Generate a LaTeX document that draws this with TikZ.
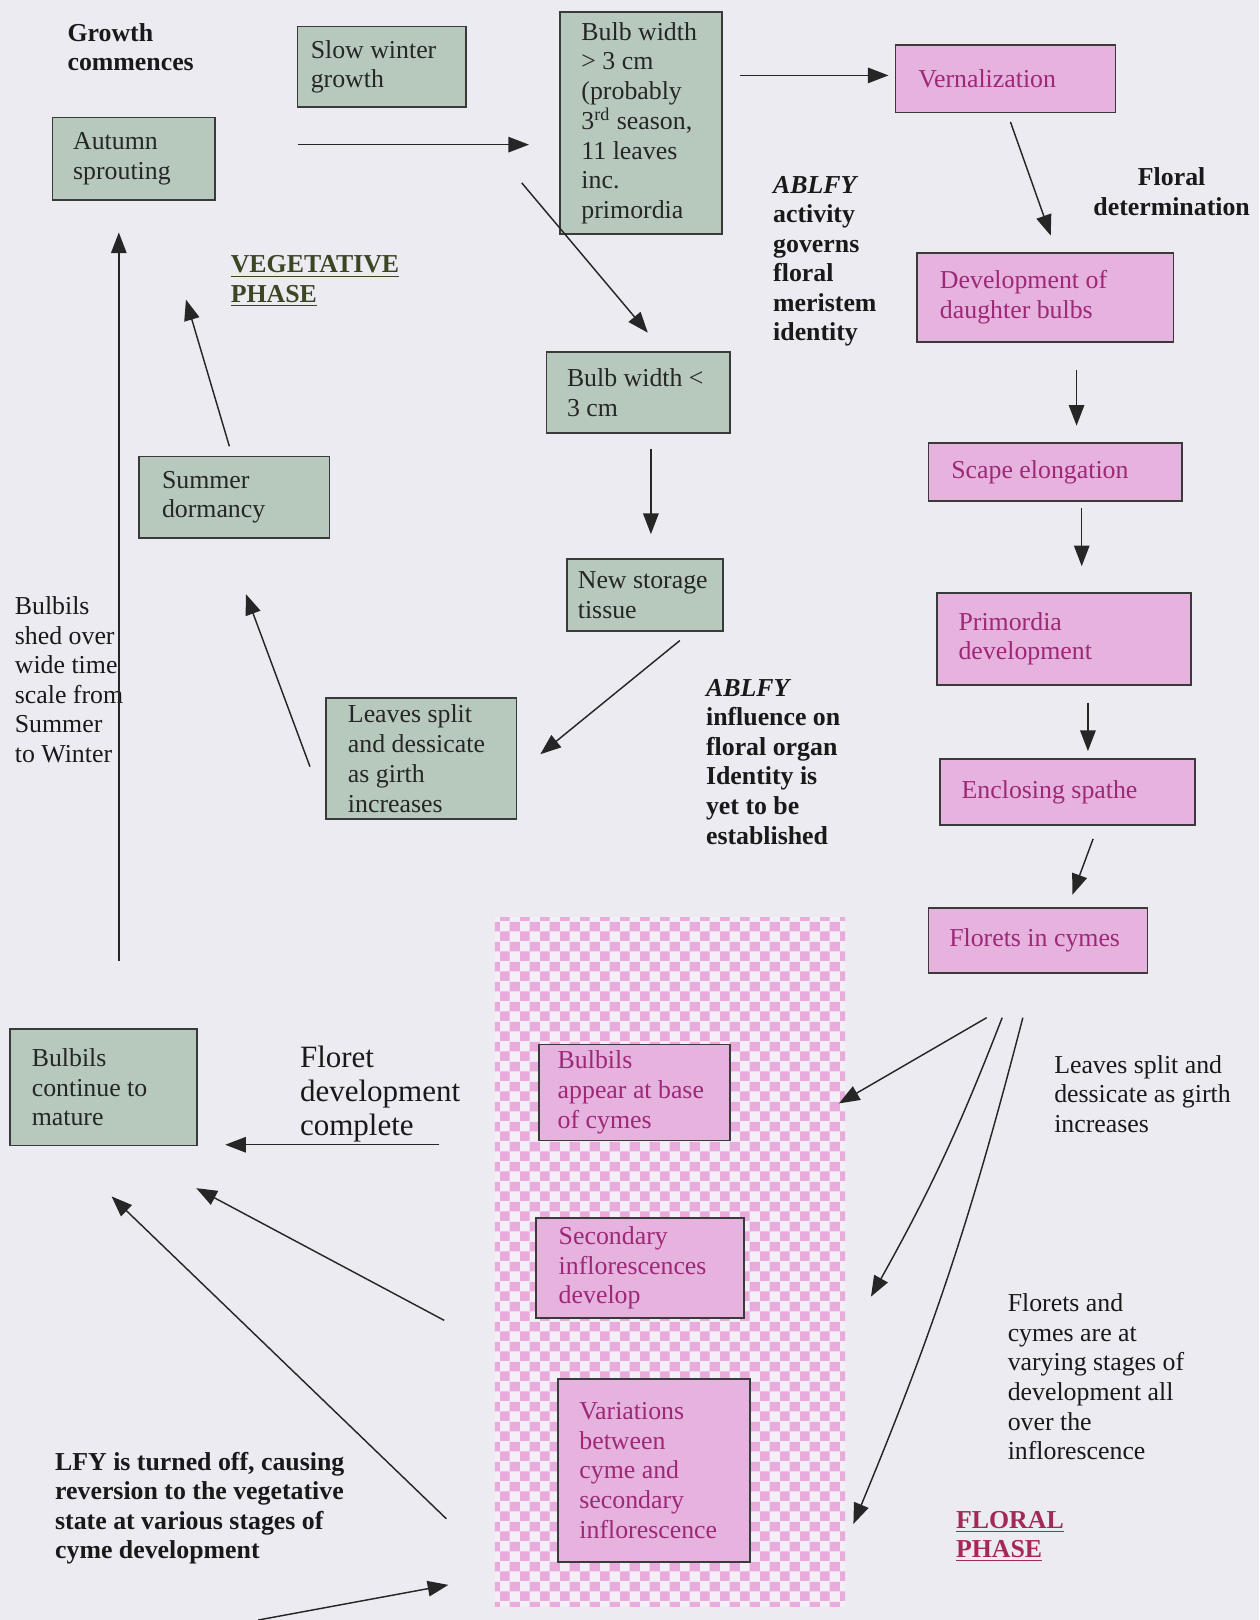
\documentclass[tikz,border=0pt]{standalone}
\usepackage{fontspec}
\setmainfont{Liberation Serif}
\usetikzlibrary{arrows.meta, patterns.meta}
\definecolor{bulbPaper}{HTML}{ECEBF2}
\definecolor{bulbVegFill}{HTML}{B7C9BD}
\definecolor{bulbFloFill}{HTML}{E6B2DE}
\definecolor{bulbFloText}{HTML}{9E2878}
\definecolor{bulbLine}{HTML}{3A3A3A}
\definecolor{bulbOlive}{HTML}{3C4623}
\definecolor{bulbCrimson}{HTML}{A5285A}
\definecolor{bulbCheckPink}{HTML}{E9AADC}
\definecolor{bulbCheckLight}{HTML}{F4EEF7}

\tikzdeclarepattern{
    name=bulbCheck, type=colored,
    bounding box={(0pt,0pt) and (9.68pt,9.68pt)},
    tile size={(9.68pt,9.68pt)},
    code={
        \fill[bulbCheckPink] (0pt,0pt) rectangle (4.84pt,4.84pt);
        \fill[bulbCheckPink] (4.84pt,4.84pt) rectangle (9.68pt,9.68pt);
    }
}

\begin{document}
\begin{tikzpicture}[
    x=0.5pt, y=-0.5pt,
    vegbox/.style={
        draw=bulbLine, line width=0.8pt, fill=bulbVegFill, text=black!85,
        font=\fontsize{12.5}{14.4}\selectfont, anchor=north west, align=flush left,
        inner ysep=2pt
    },
    flobox/.style={
        draw=bulbLine, line width=0.8pt, fill=bulbFloFill, text=bulbFloText,
        font=\fontsize{12.5}{14.4}\selectfont, anchor=north west, align=flush left,
        inner ysep=2pt
    },
    note/.style={
        font=\fontsize{12.5}{14.3}\selectfont, text=black!90,
        anchor=north west, align=left, inner sep=0pt
    },
    boldnote/.style={note, font=\fontsize{12.5}{14.3}\selectfont\bfseries},
    arr/.style={-{Triangle[length=10pt,width=7.5pt]}, line width=0.7pt, draw=black!85}
]

% === Page and checkered field ===
\useasboundingbox (0,0) rectangle (1219,1568);
\fill[bulbPaper] (0,0) rectangle (1219,1568);
\fill[bulbCheckLight] (479,888) rectangle (818,1555);
\fill[pattern=bulbCheck] (479,888) rectangle (818,1555);

% === Vegetative phase boxes ===
\node[vegbox, minimum width=81.5pt, minimum height=39pt, inner xsep=6.5pt, text width=68.5pt] (winter) at (287,25) {Slow winter\\growth};
\node[vegbox, minimum width=78.5pt, minimum height=107.5pt, inner xsep=10.5pt, text width=57.5pt] (bigbulb) at (541,11) {Bulb width\\> 3 cm\\(probably\\3\textsuperscript{rd} season,\\11 leaves\\inc.\\primordia};
\node[vegbox, minimum width=78.5pt, minimum height=40pt, inner xsep=10pt, text width=58.5pt] (autumn) at (50,113) {Autumn\\sprouting};
\node[vegbox, minimum width=89pt, minimum height=39pt, inner xsep=10pt, text width=69pt] (smallbulb) at (528,340) {Bulb width <\\3 cm};
\node[vegbox, minimum width=92pt, minimum height=39.5pt, inner xsep=11pt, text width=70pt] (dormancy) at (134,441) {Summer\\dormancy};
\node[vegbox, minimum width=75.5pt, minimum height=35pt, inner xsep=5.25pt, text width=65pt] (storage) at (548,540) {New storage\\tissue};
\node[vegbox, minimum width=92pt, minimum height=58.5pt, inner xsep=10.5pt, text width=71pt] (split) at (315,675) {Leaves split\\and dessicate\\as girth\\increases};
\node[vegbox, minimum width=90.5pt, minimum height=56.5pt, inner xsep=10.5pt, text width=69.5pt] (mature) at (9,995) {Bulbils\\continue to\\mature};

% === Floral phase boxes ===
\node[flobox, minimum width=106.5pt, minimum height=32.5pt, inner xsep=11pt, text width=84.5pt] (vern) at (866,43) {Vernalization};
\node[flobox, minimum width=124pt, minimum height=43pt, inner xsep=11pt, text width=102pt] (daughter) at (887,244) {Development of\\daughter bulbs};
\node[flobox, minimum width=122.5pt, minimum height=28pt, inner xsep=11pt, text width=100.5pt] (scape) at (898,428) {Scape elongation};
\node[flobox, minimum width=123pt, minimum height=44.5pt, inner xsep=10.5pt, text width=102pt] (prim) at (906,573) {Primordia\\development};
\node[flobox, minimum width=123.5pt, minimum height=32pt, inner xsep=10.5pt, text width=102.5pt] (spathe) at (909,734) {Enclosing spathe};
\node[flobox, minimum width=106pt, minimum height=31.5pt, inner xsep=10pt, text width=86pt] (cymes) at (898,878) {Florets in cymes};
\node[flobox, minimum width=92.5pt, minimum height=46.5pt, inner xsep=9pt, text width=74.5pt] (bbase) at (521,1010) {Bulbils\\appear at base\\of cymes};
\node[flobox, minimum width=100.5pt, minimum height=48.5pt, inner xsep=11pt, text width=78.5pt] (secinf) at (518,1178) {Secondary\\inflorescences\\develop};
\node[flobox, minimum width=93pt, minimum height=88.5pt, inner xsep=10.5pt, text width=72pt] (vari) at (539,1334) {Variations\\between\\cyme and\\secondary\\inflorescence};

% === Free text ===
\node[boldnote] (growth) at (65,22) {Growth\\commences};
\node[boldnote, text=bulbOlive] (vegphase) at (223,247) {\underline{VEGETATIVE}\\\underline{PHASE}};
\node[boldnote] (governs) at (748,170) {\textit{ABLFY}\\activity\\governs\\floral\\meristem\\identity};
\node[boldnote, anchor=north, align=center] (floraldet) at (1134,162) {Floral\\determination};
\node[note] (shed) at (14,577) {Bulbils\\shed over\\wide time\\scale from\\Summer\\to Winter};
\node[boldnote] (organ) at (683,657) {\textit{ABLFY}\\influence on\\floral organ\\Identity is\\yet to be\\established};
\node[note, font=\fontsize{15}{16.5}\selectfont] (floret) at (290,1012) {Floret\\development\\complete};
\node[note] (girth) at (1020,1021) {Leaves split and\\dessicate as girth\\increases};
\node[note] (stages) at (975,1252) {Florets and\\cymes are at\\varying stages of\\development all\\over the\\inflorescence};
\node[boldnote, text=bulbCrimson] (floralphase) at (925,1462) {\underline{FLORAL}\\\underline{PHASE}};
\node[boldnote] (lfyoff) at (53,1405) {LFY is turned off, causing\\reversion to the vegetative\\state at various stages of\\cyme development};

% === Free ends of the connectors ===
\coordinate (a1) at (288,140);  \coordinate (a2) at (512,140);
\coordinate (b1) at (716,73);   \coordinate (b2) at (860,73);
\coordinate (c1) at (978,118);  \coordinate (c2) at (1017,228);
\coordinate (d1) at (505,177);  \coordinate (d2) at (627,322);
\coordinate (e1) at (1042,358); \coordinate (e2) at (1042,412);
\coordinate (f1) at (1047,492); \coordinate (f2) at (1047,548);
\coordinate (g1) at (1053,680); \coordinate (g2) at (1053,727);
\coordinate (h1) at (1058,812); \coordinate (h2) at (1038,866);
\coordinate (i1) at (630,435);  \coordinate (i2) at (630,517);
\coordinate (j1) at (658,620);  \coordinate (j2) at (523,730);
\coordinate (k1) at (300,742);  \coordinate (k2) at (238,575);
\coordinate (l1) at (222,432);  \coordinate (l2) at (180,290);
\coordinate (m1) at (115,930);  \coordinate (m2) at (115,225);
\coordinate (n1) at (425,1108); \coordinate (n2) at (218,1108);
\coordinate (o1) at (430,1278); \coordinate (o2) at (190,1150);
\coordinate (p1) at (432,1470); \coordinate (p2) at (108,1158);
\coordinate (q1) at (250,1568); \coordinate (q2) at (434,1534);
\coordinate (r1) at (955,985);  \coordinate (r2) at (812,1068);
\coordinate (s1) at (970,985);  \coordinate (s2) at (843,1255);
\coordinate (t1) at (990,985);  \coordinate (t2) at (826,1475);

% === Connectors ===
\draw[arr] (a1) -- (a2);
\draw[arr] (b1) -- (b2);
\draw[arr] (c1) -- (c2);
\draw[arr] (d1) -- (d2);
\draw[arr] (e1) -- (e2);
\draw[arr] (f1) -- (f2);
\draw[arr] (g1) -- (g2);
\draw[arr] (h1) -- (h2);
\draw[arr] (i1) -- (i2);
\draw[arr] (j1) -- (j2);
\draw[arr] (k1) -- (k2);
\draw[arr] (l1) -- (l2);
\draw[arr] (m1) -- (m2);
\draw[arr] (n1) -- (n2);
\draw[arr] (o1) -- (o2);
\draw[arr] (p1) -- (p2);
\draw[arr] (q1) -- (q2);
\draw[arr] (r1) -- (r2);
\draw[arr] (s1) to[bend left=4] (s2);
\draw[arr] (t1) to[bend left=4] (t2);

\end{tikzpicture}
\end{document}
